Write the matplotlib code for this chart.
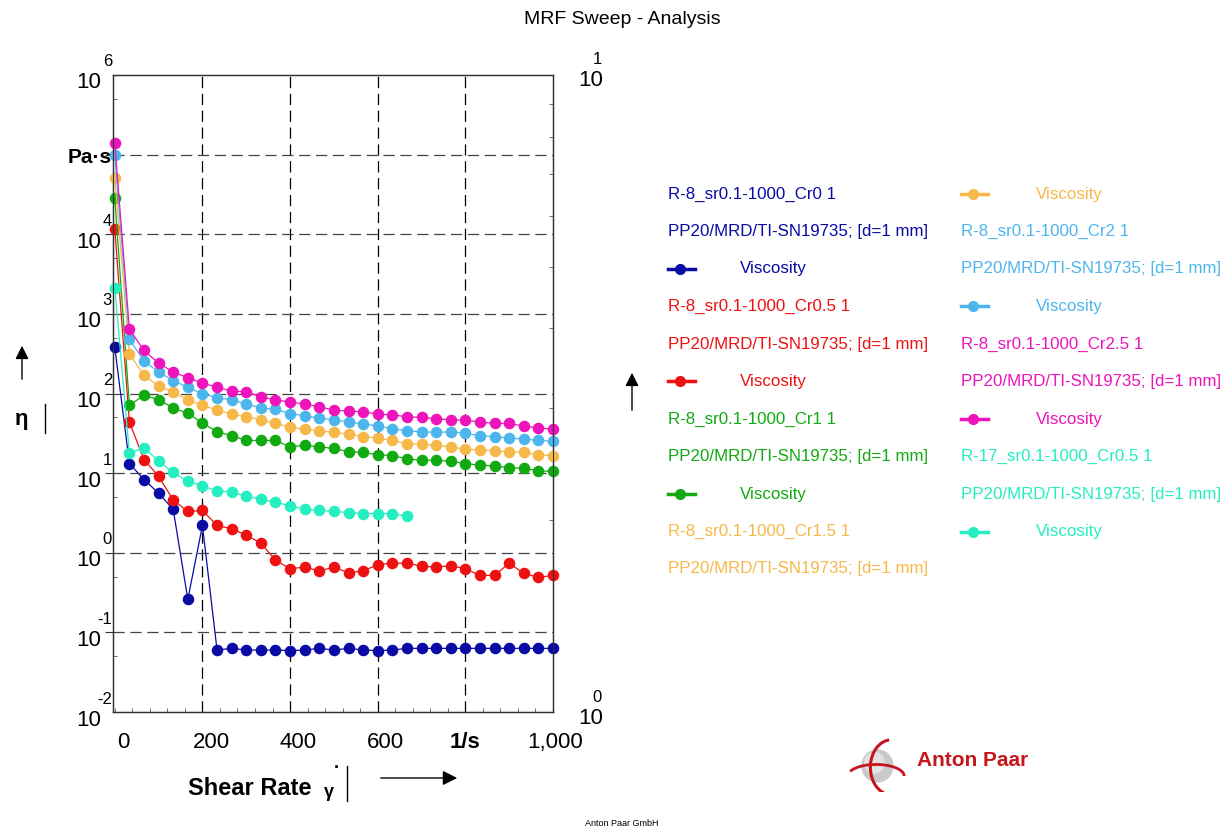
import matplotlib
matplotlib.use('Agg')
import matplotlib.pyplot as plt
from matplotlib.lines import Line2D
from matplotlib.patches import Circle, Arc
from matplotlib.ticker import FixedLocator, NullFormatter, MultipleLocator

plt.rcParams['font.family'] = ['Liberation Sans', 'DejaVu Sans']

W, H = 1226, 830

# shear rate sweep (1/s), same for every sample
shear_rate = [0.1, 33.4, 66.7, 100.1, 133.4, 166.7, 200.1, 233.4, 266.7, 300.1,
              333.4, 366.7, 400.1, 433.4, 466.7, 500.1, 533.4, 566.7, 600.0, 633.4,
              666.7, 700.0, 733.4, 766.7, 800.0, 833.4, 866.7, 900.0, 933.4, 966.7, 1000.0]

# viscosity in Pa.s
visc_cr0 = [380, 13.2, 8.3, 5.6, 3.5, 0.26, 2.2, 0.060, 0.063, 0.060,
            0.060, 0.060, 0.059, 0.060, 0.063, 0.060, 0.063, 0.060, 0.059, 0.060,
            0.063, 0.063, 0.063, 0.063, 0.063, 0.063, 0.063, 0.063, 0.063, 0.063, 0.063]
visc_cr05 = [11500, 43.6, 14.8, 9.1, 4.6, 3.3, 3.4, 2.2, 2.0, 1.66,
             1.32, 0.81, 0.63, 0.66, 0.59, 0.66, 0.56, 0.59, 0.71, 0.74,
             0.74, 0.68, 0.66, 0.69, 0.63, 0.52, 0.52, 0.74, 0.55, 0.49, 0.52]
visc_cr1 = [28200, 70.8, 95.5, 83.2, 66.1, 56.2, 42.7, 33.1, 29.5, 25.7,
            25.7, 25.7, 21.4, 22.4, 21.4, 20.4, 18.6, 18.2, 17.0, 16.6,
            15.1, 14.5, 14.5, 14.1, 13.2, 12.6, 12.3, 11.7, 11.5, 10.7, 10.5]
visc_cr15 = [51300, 316, 170, 123, 105, 83, 71, 62, 55, 51,
             47, 42, 38, 35.5, 33.9, 32.4, 30.9, 28.8, 27.5, 25.7,
             23.4, 22.9, 22.4, 21.4, 20.0, 19.5, 19.1, 18.6, 18.2, 17.0, 16.6]
visc_cr2 = [97700, 479, 257, 186, 145, 120, 98, 89, 83, 74,
            66, 63, 56, 52.5, 49, 46.8, 43.7, 41.7, 38.9, 36.3,
            33.9, 33.1, 32.4, 33.1, 31.6, 29.5, 28.8, 27.5, 26.9, 25.7, 25.1]
visc_cr25 = [138000, 646, 347, 240, 186, 158, 135, 120, 107, 105,
             91, 83, 78, 74, 68, 62, 60, 59, 55, 54,
             51, 50, 48, 47, 46, 44, 42, 42, 39, 37, 35.5]
visc_r17 = [2140, 17.8, 20.9, 14.1, 10.2, 7.9, 6.9, 6.0, 5.8, 5.1,
            4.7, 4.3, 3.9, 3.5, 3.4, 3.3, 3.2, 3.1, 3.1, 3.1, 2.9]

sample_names = ['R-8_sr0.1-1000_Cr0 1', 'R-8_sr0.1-1000_Cr0.5 1', 'R-8_sr0.1-1000_Cr1 1',
                'R-8_sr0.1-1000_Cr1.5 1', 'R-8_sr0.1-1000_Cr2 1', 'R-8_sr0.1-1000_Cr2.5 1',
                'R-17_sr0.1-1000_Cr0.5 1']
geometry = 'PP20/MRD/TI-SN19735; [d=1 mm]'
colors = ['#0a0aa5', '#ee1111', '#11aa11', '#f7b84a', '#4cb6ec', '#ee14bb', '#25eec0']
series = [visc_cr0, visc_cr05, visc_cr1, visc_cr15, visc_cr2, visc_cr25, visc_r17]


def fx(x):
    return x / W


def fy(y):
    return 1 - y / H


fig = plt.figure(figsize=(W / 100, H / 100), dpi=100)
ax = fig.add_axes([113 / W, 1 - 712 / H, 440 / W, 637 / H])
ax.set_yscale('log')
ax.set_xlim(-4, 1000)
ax.set_ylim(1e-2, 1e6)

for vals, c in zip(series, colors):
    ax.plot(shear_rate[:len(vals)], vals, color=c, lw=0.9, marker='o', ms=7.3,
            markeredgecolor=c, clip_on=False, zorder=3)

# grid
dash = (0, (9, 4.5))
ax.xaxis.set_major_locator(FixedLocator([200, 400, 600, 800]))
ax.yaxis.set_major_locator(FixedLocator([10.0 ** k for k in range(-1, 6)]))
ax.xaxis.set_minor_locator(MultipleLocator(40))
ax.yaxis.set_minor_locator(FixedLocator([5 * 10.0 ** k for k in range(-2, 6)]))
ax.xaxis.grid(True, color='black', ls=dash, lw=0.9)
ax.yaxis.grid(True, color='#444444', ls=dash, lw=0.9)
ax.set_xticklabels([])
ax.set_yticklabels([])
ax.yaxis.set_minor_formatter(NullFormatter())
ax.tick_params(which='major', axis='y', direction='out', length=6, color='#333333')
ax.tick_params(which='major', axis='x', length=0)
ax.tick_params(which='minor', direction='in', length=3, color='#555555')
for s in ax.spines.values():
    s.set_color('#333333')
    s.set_linewidth(1)

# secondary right axis (empty, 10^0 .. 10^1)
ax2 = ax.twinx()
ax2.set_yscale('log')
ax2.set_ylim(1, 10)
ax2.yaxis.set_major_locator(FixedLocator([]))
ax2.yaxis.set_minor_locator(FixedLocator([2, 3, 4, 5, 6, 7, 8, 9]))
ax2.yaxis.set_minor_formatter(NullFormatter())
ax2.tick_params(which='minor', direction='in', length=3, color='#555555')
for s in ax2.spines.values():
    s.set_color('#333333')

# left tick labels, written as 10 with raised exponent
for k in range(-2, 7):
    if k == 5:
        ax.annotate('Pa·s', xy=(0, 10.0 ** k), xycoords=('axes fraction', 'data'),
                    xytext=(-1, -3), textcoords='offset pixels', ha='right', va='center',
                    fontsize=15, weight='bold', annotation_clip=False)
        continue
    ax.annotate('10', xy=(0, 10.0 ** k), xycoords=('axes fraction', 'data'),
                xytext=(-12, -8), textcoords='offset pixels', ha='right', va='center',
                fontsize=16, annotation_clip=False)
    ax.annotate(str(k), xy=(0, 10.0 ** k), xycoords=('axes fraction', 'data'),
                xytext=(-1, 13), textcoords='offset pixels', ha='right', va='center',
                fontsize=12, annotation_clip=False)

# right tick labels
for v, e in [(10, '1'), (1, '0')]:
    ax2.annotate('10', xy=(1, v), xycoords=('axes fraction', 'data'),
                 xytext=(25, -6), textcoords='offset pixels', ha='left', va='center',
                 fontsize=16, annotation_clip=False)
    ax2.annotate(e, xy=(1, v), xycoords=('axes fraction', 'data'),
                 xytext=(44, 15), textcoords='offset pixels', ha='center', va='center',
                 fontsize=12, annotation_clip=False)

# bottom tick labels
xt_vals = [0, 200, 400, 600, 800, 1000]
xt_text = ['0', '200', '400', '600', '1/s', '1,000']
xt_shift = [9, 9, 8, 8, 0, 2]
for v, t, dx in zip(xt_vals, xt_text, xt_shift):
    ax.annotate(t, xy=(v, 0), xycoords=('data', 'axes fraction'),
                xytext=(dx, -30), textcoords='offset pixels', ha='center', va='center',
                fontsize=16, weight='bold' if t == '1/s' else 'normal',
                annotation_clip=False)

# axis titles and arrows
fig.text(fx(188), fy(788), 'Shear Rate', fontsize=17, weight='bold', ha='left', va='center')
fig.text(fx(329), fy(792), 'γ', fontsize=13, weight='bold', ha='center', va='center')
fig.text(fx(337), fy(768), '·', fontsize=13, weight='bold', ha='center', va='center')
fig.add_artist(Line2D([fx(347), fx(347)], [fy(766), fy(801)], color='black', lw=1))
ax.annotate('', xy=(460, H - 778), xytext=(378, H - 778), xycoords='figure pixels',
            arrowprops=dict(arrowstyle='-|>', color='black', lw=1, mutation_scale=22),
            annotation_clip=False)

fig.text(fx(22), fy(420), 'η', fontsize=16, weight='bold', ha='center', va='center')
fig.add_artist(Line2D([fx(45), fx(45)], [fy(404), fy(433)], color='black', lw=1))
ax.annotate('', xy=(22, H - 343), xytext=(22, H - 382), xycoords='figure pixels',
            arrowprops=dict(arrowstyle='-|>', color='black', lw=1, mutation_scale=20),
            annotation_clip=False)
ax.annotate('', xy=(632, H - 370), xytext=(632, H - 413), xycoords='figure pixels',
            arrowprops=dict(arrowstyle='-|>', color='black', lw=1, mutation_scale=20),
            annotation_clip=False)

fig.text(fx(622), fy(20), 'MRF Sweep - Analysis', fontsize=14, ha='center', va='center')
fig.text(fx(622), fy(823), 'Anton Paar GmbH', fontsize=6.5, ha='center', va='center')

# legend, written out as a flowing list in two columns
rows = []
for name, c in zip(sample_names, colors):
    rows.append(('text', name, c))
    rows.append(('text', geometry, c))
    rows.append(('line', 'Viscosity', c))

row_y = [194, 231.5, 269, 306.5, 344, 381.5, 419, 456.5, 494, 531.5, 569]
for i, (kind, txt, c) in enumerate(rows):
    col = 0 if i < 11 else 1
    y = row_y[i % 11 if col == 0 else i - 11]
    x0 = 668 if col == 0 else 961
    if kind == 'text':
        fig.text(fx(x0), fy(y), txt, color=c, fontsize=12.2, ha='left', va='center')
    else:
        fig.add_artist(Line2D([fx(x0), fx(x0 + 27)], [fy(y), fy(y)], color=c, lw=2.5))
        fig.add_artist(Line2D([fx(x0 + 12)], [fy(y)], color=c, marker='o', ms=7))
        fig.text(fx(x0 + 72 if col == 0 else x0 + 75), fy(y), txt, color=c, fontsize=12.2,
                 ha='left', va='center')

# Anton Paar logo
lax = fig.add_axes([845 / W, 1 - 792 / H, 62 / W, 58 / H])
lax.set_xlim(-1.1, 1.1)
lax.set_ylim(-1.0, 1.0)
lax.axis('off')
lax.add_patch(Circle((0.05, -0.1), 0.55, color='#c9c9c9'))
lax.add_patch(Circle((-0.05, 0.0), 0.35, color='#e2e2e2'))
lax.add_patch(Arc((0.55, -0.15), 1.5, 1.9, theta1=95, theta2=255, color='#c4161c', lw=2.2))
lax.add_patch(Arc((0.0, -0.45), 2.0, 0.8, theta1=0, theta2=170, color='#c4161c', lw=2.0))
fig.text(fx(917), fy(760), 'Anton Paar', fontsize=15, weight='bold', color='#c4161c',
         ha='left', va='center')

fig.savefig('out.png', dpi=100)
